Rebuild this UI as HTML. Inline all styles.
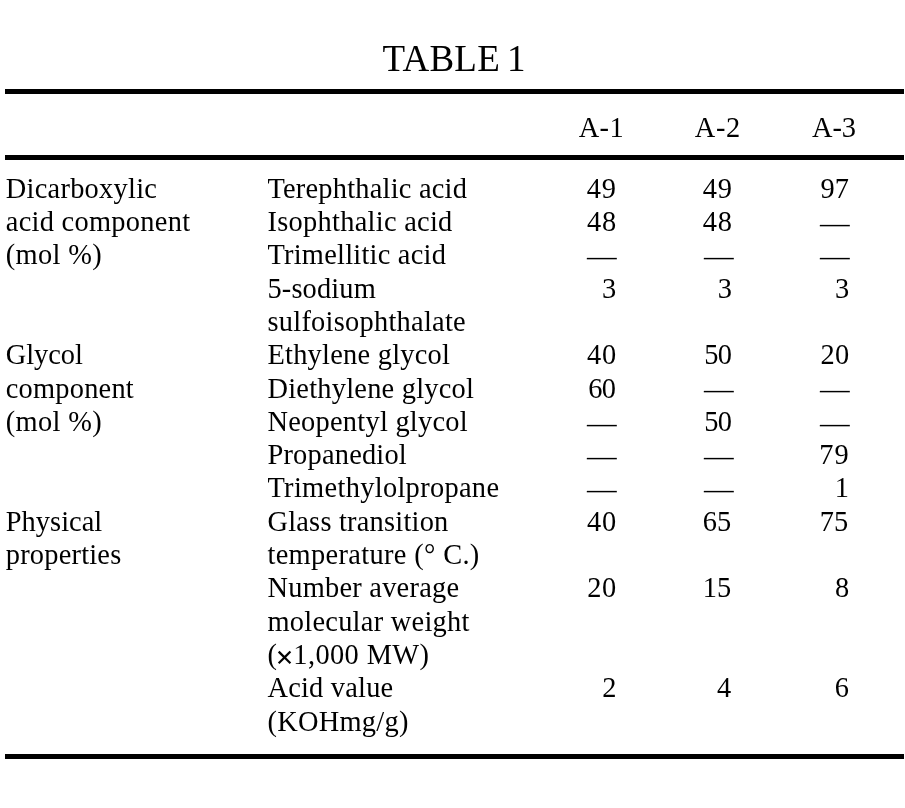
<!DOCTYPE html>
<html lang="en"><head><meta charset="utf-8"><title>TABLE 1</title>
<style>
html,body{margin:0;padding:0;background:#fff;}
body{width:905px;height:808px;position:relative;overflow:hidden;font-family:"Liberation Serif","Times New Roman",serif;color:#000;}
.t{position:absolute;white-space:nowrap;font-size:28.4px;line-height:40px;height:40px;}
.d{transform-origin:0 50%;}
.x{display:inline-block;width:16px;text-align:center;font-size:32px;font-weight:bold;line-height:0;position:relative;top:3.6px;left:-1.8px;}
.rule{position:absolute;left:5px;width:899px;height:5px;background:#000;}
</style></head><body>
<div class="rule" style="top:89px"></div>
<div class="rule" style="top:155px"></div>
<div class="rule" style="top:754px"></div>
<div class="t" style="left:382.50px;top:39.21px;font-size:37px;letter-spacing:0.260px;word-spacing:-2.502px">TABLE 1</div>
<div class="t" style="left:578.67px;top:107.61px;letter-spacing:0.445px">A-1</div>
<div class="t" style="left:694.67px;top:107.61px;letter-spacing:0.753px">A-2</div>
<div class="t" style="left:812.05px;top:107.61px;letter-spacing:-0.133px">A-3</div>
<div class="t" style="left:5.75px;top:168.72px;letter-spacing:0.269px">Dicarboxylic</div>
<div class="t" style="left:5.75px;top:202.02px;letter-spacing:0.292px">acid component</div>
<div class="t" style="left:5.75px;top:235.31px;letter-spacing:0.375px">(mol %)</div>
<div class="t" style="left:5.75px;top:335.22px;letter-spacing:-0.027px">Glycol</div>
<div class="t" style="left:5.75px;top:368.52px;letter-spacing:0.231px">component</div>
<div class="t" style="left:5.75px;top:401.81px;letter-spacing:0.375px">(mol %)</div>
<div class="t" style="left:5.75px;top:501.71px;letter-spacing:0.041px">Physical</div>
<div class="t" style="left:5.75px;top:535.01px;letter-spacing:0.214px">properties</div>
<div class="t" style="left:267.45px;top:168.72px;letter-spacing:0.224px">Terephthalic acid</div>
<div class="t" style="left:267.45px;top:202.02px;letter-spacing:0.290px">Isophthalic acid</div>
<div class="t" style="left:267.45px;top:235.31px;letter-spacing:0.243px">Trimellitic acid</div>
<div class="t" style="left:267.45px;top:268.62px;letter-spacing:0.155px">5-sodium</div>
<div class="t" style="left:267.45px;top:301.92px;letter-spacing:0.270px">sulfoisophthalate</div>
<div class="t" style="left:267.45px;top:335.22px;letter-spacing:0.253px">Ethylene glycol</div>
<div class="t" style="left:267.45px;top:368.52px;letter-spacing:0.242px">Diethylene glycol</div>
<div class="t" style="left:267.45px;top:401.81px;letter-spacing:0.262px">Neopentyl glycol</div>
<div class="t" style="left:267.45px;top:435.12px;letter-spacing:0.210px">Propanediol</div>
<div class="t" style="left:267.45px;top:468.42px;letter-spacing:0.323px">Trimethylolpropane</div>
<div class="t" style="left:267.45px;top:501.71px;letter-spacing:0.226px">Glass transition</div>
<div class="t" style="left:267.45px;top:535.01px;letter-spacing:0.343px">temperature (° C.)</div>
<div class="t" style="left:267.45px;top:568.31px;letter-spacing:0.249px">Number average</div>
<div class="t" style="left:267.45px;top:601.62px;letter-spacing:0.270px">molecular weight</div>
<div class="t" style="left:267.45px;top:634.91px;letter-spacing:0.404px">(<span class="x">×</span>1,000 MW)</div>
<div class="t" style="left:267.45px;top:668.21px;letter-spacing:0.224px">Acid value</div>
<div class="t" style="left:267.45px;top:701.51px;letter-spacing:0.278px">(KOHmg/g)</div>
<div class="t" style="left:586.80px;top:168.72px;letter-spacing:0.850px">49</div>
<div class="t" style="left:702.83px;top:168.72px;letter-spacing:0.850px">49</div>
<div class="t" style="left:820.53px;top:168.72px">97</div>
<div class="t" style="left:586.91px;top:202.02px;letter-spacing:0.850px">48</div>
<div class="t" style="left:702.82px;top:202.02px;letter-spacing:0.850px">48</div>
<div class="t d" style="left:820.25px;top:203.92px;transform:scaleX(1.0442)">—</div>
<div class="t d" style="left:587.25px;top:237.21px;transform:scaleX(1.0442)">—</div>
<div class="t d" style="left:704.24px;top:237.21px;transform:scaleX(1.0436)">—</div>
<div class="t d" style="left:820.25px;top:237.21px;transform:scaleX(1.0442)">—</div>
<div class="t" style="left:601.95px;top:268.62px">3</div>
<div class="t" style="left:717.68px;top:268.62px">3</div>
<div class="t" style="left:835.00px;top:268.62px">3</div>
<div class="t" style="left:586.89px;top:335.22px;letter-spacing:0.850px">40</div>
<div class="t" style="left:704.27px;top:335.22px;letter-spacing:-0.600px">50</div>
<div class="t" style="left:820.44px;top:335.22px;letter-spacing:0.400px">20</div>
<div class="t" style="left:588.14px;top:368.52px;letter-spacing:-0.500px">60</div>
<div class="t d" style="left:704.24px;top:370.42px;transform:scaleX(1.0436)">—</div>
<div class="t d" style="left:820.25px;top:370.42px;transform:scaleX(1.0442)">—</div>
<div class="t d" style="left:587.25px;top:403.71px;transform:scaleX(1.0442)">—</div>
<div class="t" style="left:704.27px;top:401.81px;letter-spacing:-0.600px">50</div>
<div class="t d" style="left:820.25px;top:403.71px;transform:scaleX(1.0442)">—</div>
<div class="t d" style="left:587.25px;top:437.01px;transform:scaleX(1.0442)">—</div>
<div class="t d" style="left:704.24px;top:437.01px;transform:scaleX(1.0436)">—</div>
<div class="t" style="left:819.33px;top:435.12px;letter-spacing:1.000px">79</div>
<div class="t d" style="left:587.25px;top:470.31px;transform:scaleX(1.0442)">—</div>
<div class="t d" style="left:704.24px;top:470.31px;transform:scaleX(1.0436)">—</div>
<div class="t" style="left:834.85px;top:468.42px">1</div>
<div class="t" style="left:586.89px;top:501.71px;letter-spacing:0.850px">40</div>
<div class="t" style="left:702.71px;top:501.71px">65</div>
<div class="t" style="left:819.72px;top:501.71px">75</div>
<div class="t" style="left:587.33px;top:568.31px;letter-spacing:0.400px">20</div>
<div class="t" style="left:702.71px;top:568.31px">15</div>
<div class="t" style="left:835.00px;top:568.31px">8</div>
<div class="t" style="left:602.32px;top:668.21px">2</div>
<div class="t" style="left:717.04px;top:668.21px">4</div>
<div class="t" style="left:834.70px;top:668.21px">6</div>
</body></html>
